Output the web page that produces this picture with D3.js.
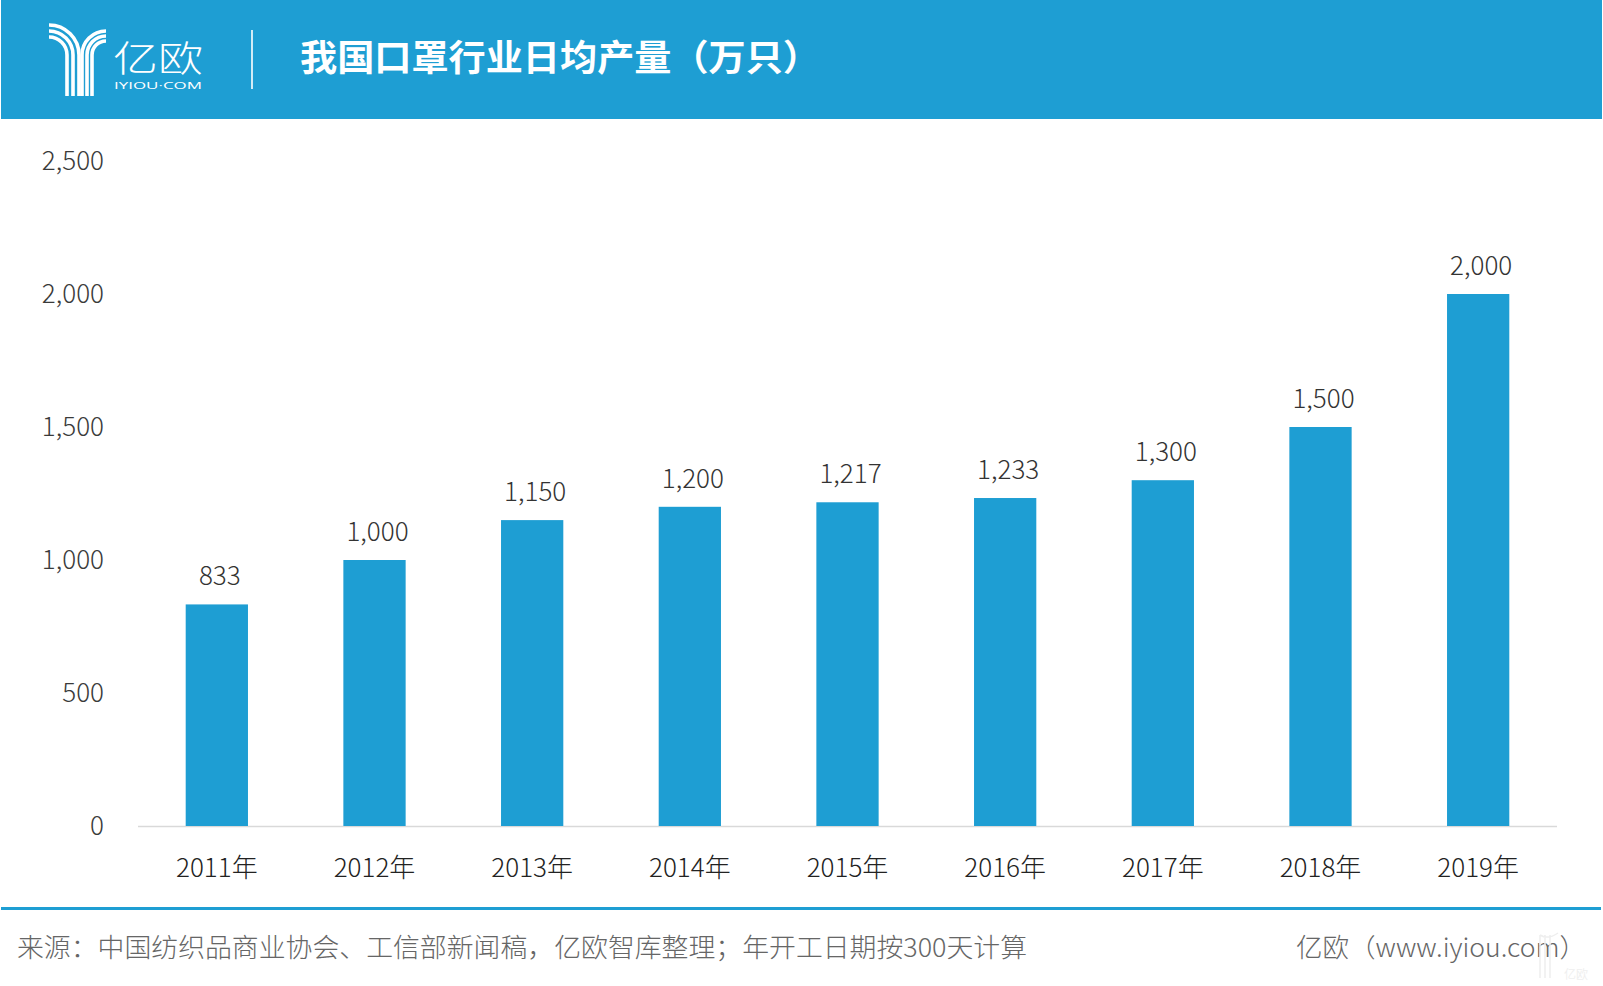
<!DOCTYPE html>
<html>
<head>
<meta charset="utf-8">
<script src="https://cdn.jsdelivr.net/npm/d3@7"></script>
<style>
html,body{margin:0;padding:0;background:#fff;}
svg{display:block;}
</style>
</head>
<body>
<svg id="chart" width="1603" height="986"></svg>
<script>
const categories = ["2011年","2012年","2013年","2014年","2015年","2016年","2017年","2018年","2019年"];
const values = [833, 1000, 1150, 1200, 1217, 1233, 1300, 1500, 2000];
const yTicks = [0, 500, 1000, 1500, 2000, 2500];
const title = "我国口罩行业日均产量（万只）";
const sourceText = "来源：中国纺织品商业协会、工信部新闻稿，亿欧智库整理；年开工日期按300天计算";
const creditText = "亿欧（www.iyiou.com）";

const blue = "#1e9ed3";
const font = "'Noto Sans CJK SC','Noto Sans',sans-serif";
const svg = d3.select("#chart");

// header band
svg.append("rect").attr("x",1).attr("y",0).attr("width",1601).attr("height",119).attr("fill",blue);

// logo stripes
const logo = svg.append("g").attr("fill","none").attr("stroke","#fff").attr("stroke-width",3.6);
[30,24,18].forEach(r=>{
  const cx=49, cy=55;
  logo.append("path").attr("d",`M${cx},${cy-r} A${r},${r} 0 0 1 ${cx+r},${cy} L${cx+r},96`);
});
[24,19,14].forEach(r=>{
  const cx=106, cy=55;
  logo.append("path").attr("d",`M${cx},${cy-r} A${r},${r} 0 0 0 ${cx-r},${cy} L${cx-r},96`);
});
svg.append("text").attr("x",158).attr("y",72).attr("text-anchor","middle")
  .attr("font-family",font).attr("font-weight",300).attr("font-size",36).attr("fill","#fff")
  .attr("textLength",90).attr("lengthAdjust","spacingAndGlyphs").text("亿欧");
svg.append("text").attr("x",158).attr("y",89).attr("text-anchor","middle")
  .attr("font-family","'Open Sans',sans-serif").attr("font-size",8.5).attr("fill","#fff")
  .attr("textLength",88).attr("lengthAdjust","spacingAndGlyphs").text("IYIOU·COM");
svg.append("line").attr("x1",252).attr("x2",252).attr("y1",30).attr("y2",89)
  .attr("stroke","#fff").attr("stroke-width",1.6);

svg.append("text").attr("x",300).attr("y",71)
  .attr("font-family",font).attr("font-weight",700).attr("font-size",36).attr("fill","#fff")
  .attr("textLength",520).attr("lengthAdjust","spacingAndGlyphs").text(title);

// scales
const x = d3.scaleBand().domain(categories).range([138,1557]).paddingInner(0.605).paddingOuter(0.3025);
const y = d3.scaleLinear().domain([0,2500]).range([826,161]);
const fmt = d3.format(",");

// y axis labels
const yAxis = svg.append("g").attr("transform","translate(104,0)")
  .call(d3.axisLeft(y).tickValues(yTicks).tickFormat(fmt).tickSize(0).tickPadding(0));
yAxis.select(".domain").remove();
yAxis.selectAll("text").attr("font-family",font).attr("font-weight",300)
  .attr("font-size",26).attr("fill","#3a3a3a");

// baseline
svg.append("line").attr("x1",138).attr("x2",1557).attr("y1",y(0)+0.5).attr("y2",y(0)+0.5)
  .attr("stroke","#d9d9d9").attr("stroke-width",1.5);

// bars
svg.append("g").selectAll("rect").data(values).join("rect")
  .attr("x",(d,i)=>x(categories[i])).attr("width",x.bandwidth())
  .attr("y",d=>y(d)).attr("height",d=>y(0)-y(d)).attr("fill",blue);

// value labels
svg.append("g").selectAll("text").data(values).join("text")
  .attr("x",(d,i)=>x(categories[i])+x.bandwidth()/2+3).attr("y",d=>y(d)-19)
  .attr("text-anchor","middle").attr("font-family",font).attr("font-weight",300)
  .attr("font-size",26).attr("fill","#333").text(d=>fmt(d));

// x axis labels
const xAxis = svg.append("g").attr("transform",`translate(0,${y(0)})`)
  .call(d3.axisBottom(x).tickSize(0).tickPadding(33));
xAxis.select(".domain").remove();
xAxis.selectAll("text").attr("font-family",font).attr("font-weight",300)
  .attr("font-size",26).attr("fill","#222").attr("dy","0.71em");

// footer line
svg.append("rect").attr("x",1).attr("y",907).attr("width",1600).attr("height",3).attr("fill",blue);

svg.append("text").attr("x",17).attr("y",957)
  .attr("font-family",font).attr("font-weight",300).attr("font-size",26).attr("fill","#666")
  .attr("textLength",1010).attr("lengthAdjust","spacingAndGlyphs").text(sourceText);
svg.append("text").attr("x",1296).attr("y",957)
  .attr("font-family",font).attr("font-weight",300).attr("font-size",26).attr("fill","#666")
  .attr("textLength",290).attr("lengthAdjust","spacingAndGlyphs").text(creditText);

// faint watermark
const wm = svg.append("g").attr("fill","none").attr("stroke","#eeeeee").attr("stroke-width",1.5);
wm.append("path").attr("d","M1540,935 L1540,978 M1545,935 L1545,978 M1550,935 L1550,978 M1540,935 Q1548,940 1558,933");
svg.append("text").attr("x",1576).attr("y",979).attr("text-anchor","middle")
  .attr("font-family",font).attr("font-size",12).attr("fill","#efefef").text("亿欧");
</script>
</body>
</html>
